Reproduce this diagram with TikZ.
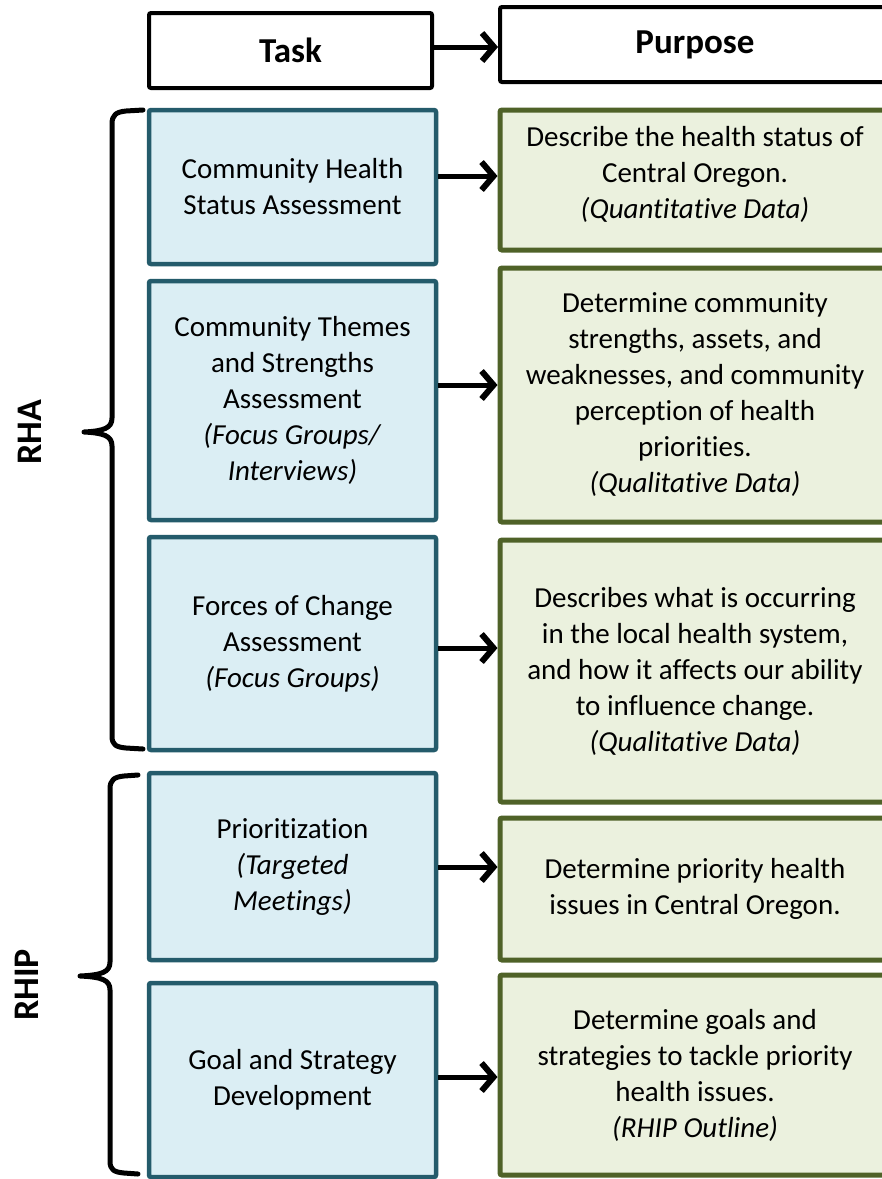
\documentclass[tikz,border=0pt]{standalone}
\usepackage{fontspec}
\setmainfont{Carlito}[Ligatures=NoCommon]
\usetikzlibrary{arrows.meta}
\definecolor{bfill}{HTML}{DBEEF4}
\definecolor{bdraw}{HTML}{245B6B}
\definecolor{gfill}{HTML}{EBF1DE}
\definecolor{gdraw}{HTML}{4F6228}
\begin{document}
\begin{tikzpicture}[x=1pt,y=-1pt,
  body/.style={font=\fontsize{29}{36}\selectfont, align=center, inner sep=0pt},
  hdr/.style={draw=black, line width=4pt, fill=white, rounded corners=2pt, font=\fontsize{35}{40}\selectfont\bfseries, inner sep=0pt},
  taskbox/.style={body, draw=bdraw, fill=bfill, line width=4.5pt, rounded corners=2pt, minimum width=287pt},
  purpbox/.style={body, draw=gdraw, fill=gfill, line width=5pt, rounded corners=2pt, minimum width=390pt},
  arr/.style={line width=5pt, -{Straight Barb[length=12pt,width=28pt,line width=6pt]}},
  brace/.style={line width=5pt, line cap=round, line join=round},
  side/.style={font=\fontsize{36}{40}\selectfont\bfseries, rotate=90, inner sep=0pt}]
\useasboundingbox (0,0) rectangle (882,1179);
\clip (0,0) rectangle (882,1179);
\fill[white] (0,0) rectangle (882,1179);

% headers
\node[hdr, minimum width=283pt, minimum height=75pt] (task) at (290.5,50.5) {Task};
\node[hdr, minimum width=390pt, minimum height=75pt] (purp) at (695,44.5) {Purpose};
\draw[arr] (task.east |- 0,47) -- (purp.west |- 0,47);

% task boxes
\node[taskbox, minimum height=154pt] (t1) at (292.5,187) {Community Health\\Status Assessment};
\node[taskbox, minimum height=239pt] (t2) at (292.5,400.5) {Community Themes\\and Strengths\\Assessment\\\textit{(Focus Groups/}\\\textit{Interviews)}};
\node[taskbox, minimum height=213pt] (t3) at (292.5,643.5) {Forces of Change\\Assessment\\\textit{(Focus Groups)}};
\node[taskbox, minimum height=187pt] (t4) at (292.5,866.5) {Prioritization\\\textit{(Targeted}\\\textit{Meetings)}};
\node[taskbox, minimum height=194pt] (t5) at (292.5,1080) {Goal and Strategy\\Development};

% purpose boxes
\node[purpbox, minimum height=140pt] (p1) at (695,180) {};
\node[body] (p1t) at (695,174) {Describe the health status of\\Central Oregon.\\\textit{(Quantitative Data)}};
\node[purpbox, minimum height=254pt] (p2) at (695,395) {Determine community\\strengths, assets, and\\weaknesses, and community\\perception of health\\priorities.\\\textit{(Qualitative Data)}};
\node[purpbox, minimum height=262pt] (p3) at (695,671) {Describes what is occurring\\in the local health system,\\and how it affects our ability\\to influence change.\\\textit{(Qualitative Data)}};
\node[purpbox, minimum height=142pt] (p4) at (695,889) {Determine priority health\\issues in Central Oregon.};
\node[purpbox, minimum height=200pt] (p5) at (695,1075) {Determine goals and\\strategies to tackle priority\\health issues.\\\textit{(RHIP Outline)}};

% arrows
\draw[arr] (t1.east |- 0,176) -- (p1.west |- 0,176);
\draw[arr] (t2.east |- 0,385) -- (p2.west |- 0,385);
\draw[arr] (t3.east |- 0,648) -- (p3.west |- 0,648);
\draw[arr] (t4.east |- 0,867) -- (p4.west |- 0,867);
\draw[arr] (t5.east |- 0,1077) -- (p5.west |- 0,1077);

% braces
\draw[brace] (143,110) -- (126,111) .. controls (116,112) and (112,115) .. (112,124)
  -- (112,418) .. controls (112,428) and (104,431) .. (84,432)
  .. controls (104,433) and (112,436) .. (112,446)
  -- (112,736) .. controls (112,745) and (116,747) .. (126,748) -- (143,749);
\draw[brace] (138,775) -- (124,776) .. controls (114,777) and (110,780) .. (110,789)
  -- (110,962) .. controls (110,972) and (102,975) .. (80,976)
  .. controls (102,977) and (110,980) .. (110,990)
  -- (110,1161) .. controls (110,1170) and (114,1172) .. (124,1173) -- (138,1174);

\node[side] (rha) at (30,432) {RHA};
\node[side] (rhip) at (27,985) {RHIP};
\end{tikzpicture}
\end{document}
